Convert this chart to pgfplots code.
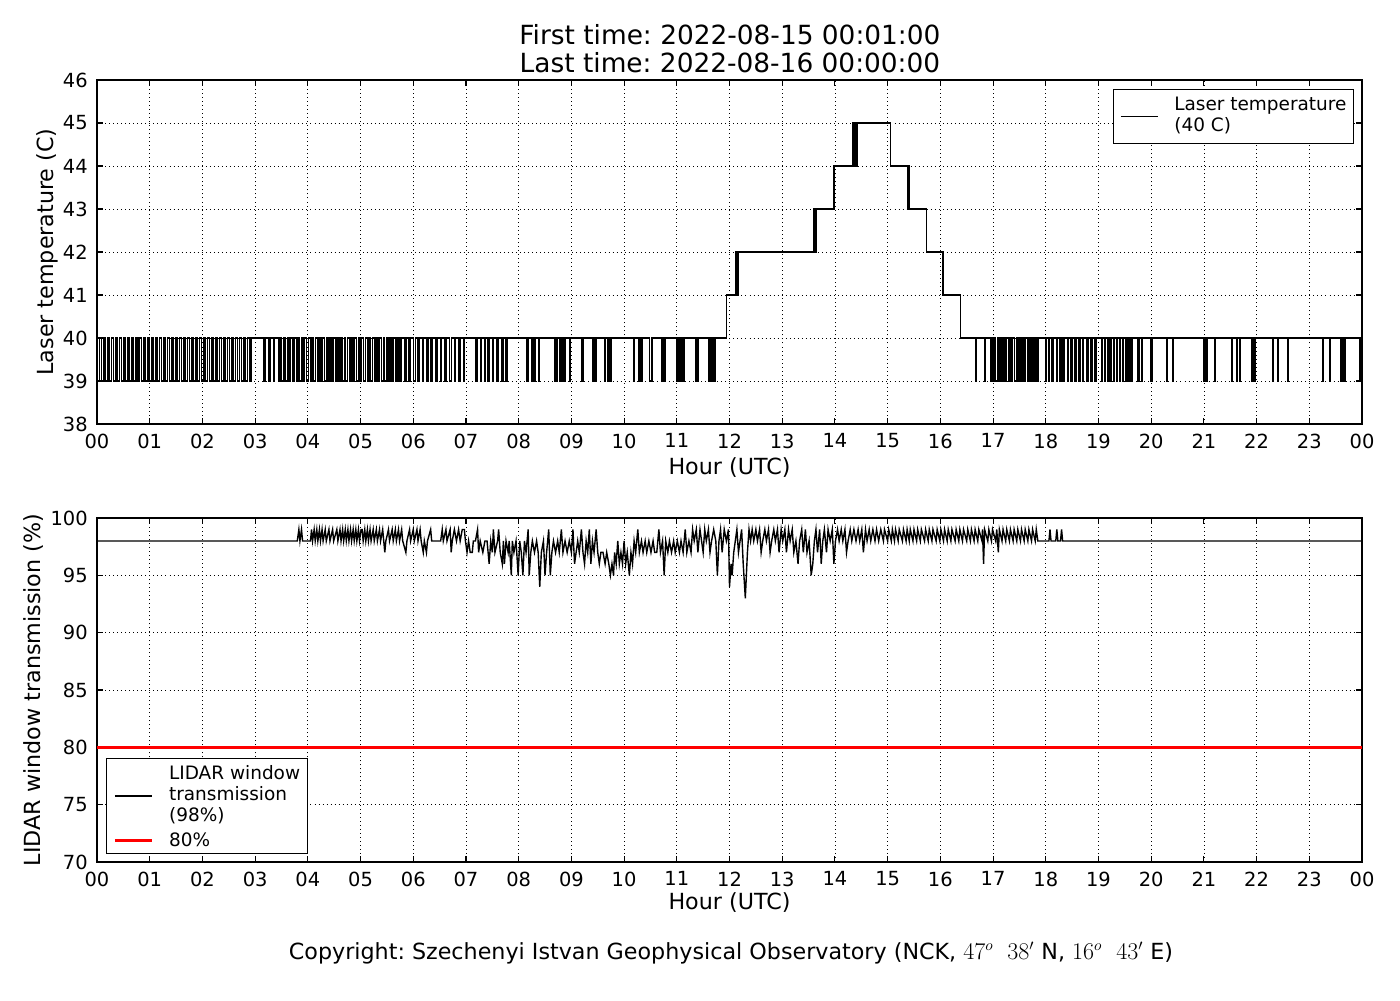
\documentclass[border=0pt]{standalone}
\usepackage{fontspec}
\setmainfont{DejaVu Sans}
\usepackage{pgfplots}
\usepackage{pgfplotstable}
\pgfplotsset{compat=1.18}
\frenchspacing
\pgfplotstableread[row sep=\\]{x y\\
0.00 39\\0.05 40\\0.08 39\\0.12 40\\0.15 39\\0.20 40\\0.23 39\\0.27 40\\0.31 39\\0.35 40\\0.38 39\\0.43 40\\0.46 39\\0.50 40\\0.53 39\\0.58 40\\0.61 39\\0.65 40\\0.68 39\\0.73 40\\0.76 39\\0.80 40\\0.84 39\\0.88 40\\0.91 39\\0.96 40\\0.99 39\\1.03 40\\1.06 39\\1.11 40\\1.14 39\\1.18 40\\1.22 39\\1.26 40\\1.29 39\\1.34 40\\1.37 39\\1.41 40\\1.44 39\\1.49 40\\1.52 39\\1.56 40\\1.60 39\\1.64 40\\1.67 39\\1.72 40\\1.75 39\\1.79 40\\1.82 39\\1.87 40\\1.90 39\\1.94 40\\1.98 39\\2.02 40\\2.05 39\\2.10 40\\2.13 39\\2.17 40\\2.20 39\\2.25 40\\2.28 39\\2.32 40\\2.36 39\\2.40 40\\2.43 39\\2.48 40\\2.51 39\\2.55 40\\2.58 39\\2.63 40\\2.66 39\\2.70 40\\2.74 39\\2.78 40\\2.81 39\\2.86 40\\2.89 39\\2.92 40\\
3.17 39\\3.20 40\\3.26 39\\3.28 40\\3.35 39\\3.37 40\\
3.44 39\\3.47 40\\3.50 39\\3.54 40\\3.57 39\\3.61 40\\3.64 39\\3.67 40\\3.71 39\\3.74 40\\3.78 39\\3.81 40\\3.84 39\\3.88 40\\3.91 39\\3.94 40\\3.98 39\\4.01 40\\4.05 39\\4.08 40\\4.11 39\\4.15 40\\4.18 39\\4.21 40\\4.25 39\\4.28 40\\4.32 39\\4.35 40\\4.38 39\\4.42 40\\4.45 39\\4.48 40\\4.52 39\\4.55 40\\4.59 39\\4.62 40\\4.65 39\\4.69 40\\4.72 39\\4.75 40\\4.79 39\\4.82 40\\4.86 39\\4.89 40\\4.92 39\\4.96 40\\4.99 39\\5.02 40\\5.06 39\\5.09 40\\5.13 39\\5.16 40\\5.19 39\\5.23 40\\5.26 39\\5.29 40\\5.33 39\\5.36 40\\5.40 39\\5.43 40\\5.46 39\\5.50 40\\5.53 39\\5.56 40\\5.60 39\\5.63 40\\5.67 39\\5.70 40\\5.73 39\\5.77 40\\
5.83 39\\5.86 40\\5.92 39\\5.95 40\\6.01 39\\6.04 40\\6.09 39\\6.11 40\\6.17 39\\6.20 40\\6.26 39\\6.28 40\\6.34 39\\6.37 40\\6.43 39\\6.46 40\\6.52 39\\6.54 40\\6.60 39\\6.63 40\\6.69 39\\6.72 40\\6.78 39\\6.80 40\\6.86 39\\6.89 40\\6.95 39\\6.97 40\\
7.18 39\\7.21 40\\7.27 39\\7.29 40\\7.35 39\\7.37 40\\7.41 39\\7.44 40\\7.50 39\\7.52 40\\7.58 39\\7.61 40\\7.68 39\\7.70 40\\7.76 39\\7.79 40\\
8.16 39\\8.18 40\\8.25 39\\8.27 40\\8.30 39\\8.32 40\\8.38 39\\8.40 40\\8.68 39\\8.70 40\\8.72 39\\8.74 40\\8.78 39\\8.80 40\\8.82 39\\8.84 40\\8.86 39\\8.88 40\\8.96 39\\8.98 40\\9.20 39\\9.22 40\\9.41 39\\9.43 40\\9.45 39\\9.47 40\\9.63 39\\9.65 40\\9.68 39\\9.70 40\\9.73 39\\9.75 40\\10.18 39\\10.20 40\\10.28 39\\10.30 40\\10.32 39\\10.34 40\\10.48 39\\10.53 40\\10.72 39\\10.74 40\\10.76 39\\10.78 40\\11.00 39\\11.02 40\\11.04 39\\11.06 40\\11.08 39\\11.10 40\\11.12 39\\11.14 40\\11.35 39\\11.37 40\\11.39 39\\11.41 40\\11.61 39\\11.63 40\\11.67 39\\11.69 40\\11.71 39\\11.73 40\\
11.94 41\\12.12 42\\12.14 41\\12.16 42\\13.60 43\\13.62 42\\13.64 43\\13.98 44\\14.34 45\\14.36 44\\14.39 45\\14.41 44\\14.43 45\\15.05 44\\15.38 43\\15.40 44\\15.42 43\\15.74 42\\16.05 41\\16.38 40\\
16.67 39\\16.69 40\\16.84 39\\16.86 40\\16.95 39\\16.97 40\\17.00 39\\17.02 40\\17.05 39\\17.08 40\\17.11 39\\17.13 40\\17.17 39\\17.20 40\\17.23 39\\17.25 40\\17.29 39\\17.32 40\\17.35 39\\17.37 40\\17.41 39\\17.44 40\\17.47 39\\17.50 40\\17.53 39\\17.56 40\\17.59 39\\17.62 40\\17.66 39\\17.68 40\\17.72 39\\17.74 40\\17.78 39\\17.80 40\\17.83 39\\17.85 40\\
17.99 39\\18.01 40\\18.05 39\\18.07 40\\18.12 39\\18.14 40\\18.20 39\\18.22 40\\18.27 39\\18.29 40\\18.33 39\\18.35 40\\18.41 39\\18.43 40\\18.48 39\\18.51 40\\18.55 39\\18.57 40\\18.63 39\\18.65 40\\18.70 39\\18.72 40\\18.78 39\\18.80 40\\18.86 39\\18.88 40\\18.93 39\\18.95 40\\19.06 39\\19.08 40\\19.11 39\\19.13 40\\19.17 39\\19.19 40\\19.22 39\\19.24 40\\19.28 39\\19.30 40\\19.34 39\\19.36 40\\19.40 39\\19.42 40\\19.46 39\\19.48 40\\19.52 39\\19.54 40\\19.58 39\\19.60 40\\19.62 39\\19.64 40\\19.75 39\\19.77 40\\19.82 39\\19.84 40\\20.00 39\\20.02 40\\20.29 39\\20.31 40\\20.40 39\\20.42 40\\21.00 39\\21.02 40\\21.05 39\\21.07 40\\21.20 39\\21.22 40\\21.52 39\\21.54 40\\21.62 39\\21.64 40\\21.67 39\\21.69 40\\21.90 39\\21.92 40\\21.95 39\\21.97 40\\22.30 39\\22.32 40\\22.40 39\\22.42 40\\22.59 39\\22.61 40\\23.25 39\\23.27 40\\23.38 39\\23.40 40\\23.60 39\\23.62 40\\23.66 39\\23.68 40\\23.96 39\\24.00 39\\
}\lasertemp
\pgfplotstableread[row sep=\\]{x y\\
0.00 98\\3.80 98\\3.83 99\\3.85 98\\3.88 99\\3.90 98\\4.05 98\\4.07 99\\4.09 98\\4.12 99\\4.14 98\\4.17 99\\4.19 98\\4.22 99\\4.24 98\\4.27 99\\4.29 98\\4.33 99\\4.35 98\\4.40 99\\4.42 98\\4.47 99\\4.49 98\\4.55 99\\4.57 98\\4.61 99\\4.63 98\\4.66 99\\4.68 98\\4.71 99\\4.73 98\\4.76 99\\4.78 98\\4.81 99\\4.83 98\\4.86 99\\4.88 98\\4.91 99\\4.93 98\\4.96 99\\4.98 98\\5.01 99\\5.03 99\\5.05 98\\5.08 99\\5.10 98\\5.13 99\\5.15 98\\5.18 99\\5.20 98\\5.24 99\\5.26 98\\5.30 99\\5.32 98\\5.36 99\\5.38 98\\5.42 99\\5.44 98\\5.46 97\\5.48 98\\5.53 99\\5.55 98\\5.60 99\\5.62 98\\5.66 99\\5.68 98\\5.72 99\\5.74 98\\5.78 99\\5.80 98\\5.86 97\\5.88 98\\5.93 99\\5.95 98\\6.00 99\\6.02 98\\6.07 99\\6.09 98\\6.13 99\\6.15 98\\6.19 97\\6.21 98\\6.25 97\\6.27 98\\6.33 99\\6.35 98\\6.52 98\\6.55 99\\6.57 98\\6.62 99\\6.64 98\\6.70 99\\6.72 97\\6.74 98\\6.78 99\\6.82 98\\6.86 99\\6.89 98\\6.93 99\\6.97 99\\6.99 98\\
7.02 97\\7.05 98\\7.08 97\\7.12 97\\7.14 98\\7.18 98\\7.22 99\\7.24 97\\7.27 98\\7.32 97\\7.36 98\\7.40 98\\7.44 96\\7.47 98\\7.50 97\\7.52 99\\7.55 97\\7.60 98\\7.62 99\\7.65 97\\7.69 96\\7.71 98\\7.73 96\\7.76 98\\7.80 97\\7.82 98\\7.86 95\\7.88 98\\7.91 97\\7.95 98\\7.99 95\\8.02 98\\8.05 97\\8.08 95\\8.11 98\\8.14 97\\8.18 99\\8.20 95\\8.23 97\\8.26 98\\8.30 97\\8.34 98\\8.37 97\\8.40 94\\8.43 97\\8.47 98\\8.50 95\\8.53 97\\8.57 99\\8.60 95\\8.63 97\\8.66 98\\8.70 97\\8.74 98\\8.77 97\\8.81 99\\8.84 97\\8.88 98\\8.92 97\\8.96 98\\
9.00 97\\9.03 99\\9.06 96\\9.09 97\\9.12 98\\9.15 97\\9.19 99\\9.22 97\\9.25 96\\9.28 98\\9.31 97\\9.34 99\\9.37 96\\9.40 98\\9.43 97\\9.47 99\\9.50 97\\9.53 96\\9.56 97\\9.60 97\\9.64 96\\9.67 97\\9.71 96\\9.74 95\\9.77 96\\9.80 95\\9.82 97\\9.85 96\\9.88 98\\9.91 96\\9.94 97\\9.97 96\\10.00 98\\10.03 96\\10.06 97\\10.10 95\\10.13 97\\10.16 96\\10.19 98\\10.22 97\\10.26 99\\10.29 97\\10.33 98\\10.36 97\\10.40 98\\10.43 97\\10.47 98\\10.51 97\\10.55 98\\10.58 97\\10.62 97\\10.66 99\\10.69 97\\10.73 98\\10.76 95\\10.79 98\\10.83 97\\10.86 98\\10.90 97\\10.94 98\\10.97 97\\
11.01 98\\11.05 97\\11.08 98\\11.12 97\\11.16 99\\11.19 97\\11.23 98\\11.27 97\\11.30 99\\11.33 98\\11.37 99\\11.40 97\\11.44 99\\11.47 98\\11.50 97\\11.53 99\\11.56 98\\11.60 99\\11.63 97\\11.66 98\\11.70 99\\11.74 98\\11.77 95\\11.80 98\\11.83 99\\11.86 97\\11.90 99\\11.94 98\\11.98 99\\12.00 94\\12.03 96\\12.05 95\\12.08 97\\12.11 98\\12.14 99\\12.17 97\\12.20 98\\12.23 99\\12.26 96\\12.30 93\\12.32 95\\12.34 97\\12.37 99\\12.40 98\\12.43 99\\12.46 98\\12.50 99\\12.53 98\\12.57 99\\12.60 97\\12.63 98\\12.67 99\\12.70 98\\12.74 99\\12.77 97\\12.80 98\\12.84 99\\12.87 98\\12.91 99\\12.94 97\\12.98 99\\
13.01 98\\13.05 99\\13.08 97\\13.12 99\\13.15 98\\13.19 99\\13.22 97\\13.26 98\\13.30 96\\13.33 98\\13.37 99\\13.40 97\\13.44 99\\13.47 97\\13.51 98\\13.55 95\\13.58 96\\13.61 98\\13.64 99\\13.67 97\\13.71 99\\13.74 96\\13.77 98\\13.80 99\\13.84 97\\13.87 99\\13.91 98\\13.95 99\\13.98 96\\14.01 98\\14.05 99\\14.08 98\\14.12 99\\14.15 98\\14.19 99\\14.22 97\\14.25 98\\14.29 99\\14.32 98\\14.36 99\\14.40 98\\14.44 99\\14.47 98\\14.51 99\\14.54 97\\14.58 99\\14.61 98\\14.65 99\\14.68 98\\14.72 99\\14.76 98\\14.79 99\\14.83 98\\14.87 99\\
14.92 98\\14.94 99\\15.00 98\\15.02 99\\15.07 98\\15.09 99\\15.13 98\\15.15 99\\15.20 98\\15.22 99\\15.28 98\\15.30 99\\15.35 98\\15.37 99\\15.41 98\\15.43 99\\15.48 98\\15.50 99\\15.55 98\\15.57 99\\15.62 98\\15.64 99\\15.70 98\\15.72 99\\15.77 98\\15.79 99\\15.84 98\\15.86 99\\15.92 98\\15.94 99\\15.99 98\\16.01 99\\16.06 98\\16.08 99\\16.13 98\\16.15 99\\16.20 98\\16.22 99\\16.28 98\\16.30 99\\16.35 98\\16.37 99\\16.42 98\\16.44 99\\16.50 98\\16.52 99\\16.57 98\\16.59 99\\16.64 98\\16.66 99\\16.71 98\\16.73 99\\16.79 98\\16.80 99\\16.82 96\\16.84 99\\16.90 98\\16.92 99\\16.97 98\\16.99 99\\17.05 98\\17.07 99\\17.10 97\\17.12 99\\17.17 98\\17.19 99\\17.24 98\\17.26 99\\17.31 98\\17.33 99\\17.38 98\\17.40 99\\17.45 98\\17.47 99\\17.52 98\\17.54 99\\17.59 98\\17.61 99\\17.66 98\\17.68 99\\17.73 98\\17.75 99\\17.80 98\\17.82 99\\
17.85 98\\18.06 98\\18.08 99\\18.10 98\\18.19 98\\18.21 99\\18.23 98\\18.28 98\\18.30 99\\18.32 98\\24.00 98\\
}\lidartrans
\pgfplotsset{
  chartbase/.style={
    scale only axis,
    width=910.8pt, height=247.68pt,
    xmin=0, xmax=24,
    xtick={0,...,24},
    xticklabels={00,01,02,03,04,05,06,07,08,09,10,11,12,13,14,15,16,17,18,19,20,21,22,23,00},
    /pgf/number format/assume math mode=true,
    tick label style={font=\fontsize{14}{16.8}\selectfont},
    xticklabel style={yshift=-3.5pt},
    yticklabel style={xshift=-3.2pt},
    label style={font=\fontsize{16}{19.2}\selectfont},
    grid=major,
    grid style={black, line width=0.5pt, dash pattern=on 0.7pt off 2.2pt},
    axis line style={black, line width=0.8pt},
    tick style={black, line width=0.8pt},
    major tick length=4pt,
    tick align=inside,
    xtick pos=both, ytick pos=both,
    minor tick num=0,
    legend cell align=left,
    legend image code/.code={\draw[##1] (0pt,0pt) -- (27pt,0pt);},
    legend style={font=\fontsize{13.3}{15}\selectfont, draw=black, line width=0.8pt,
      inner xsep=5pt, inner ysep=4.5pt, row sep=4.3pt, column sep=11pt,
      nodes={inner xsep=0pt, inner ysep=0pt, text depth=}},
  }
}
\begin{document}%
\begin{tikzpicture}
\path[use as bounding box] (0,0) rectangle (1008pt,-720pt);

\node[align=center, font=\fontsize{19}{20.2}\selectfont] at (525.6pt,-35.28pt)
  {First time: 2022-08-15 00:01:00\\Last time: 2022-08-16 00:00:00};

\begin{axis}[chartbase,
  at={(69.84pt,-305.28pt)}, anchor=south west,
  ymin=38, ymax=46, ytick={38,39,...,46},
  xlabel={Hour (UTC)},
  ylabel={Laser temperature (C)},
  xlabel style={at={(axis description cs:0.5,-0.126)}, anchor=center},
  ylabel style={at={(axis description cs:-0.0395,0.5)}, anchor=center},
  legend style={at={(1,1)}, anchor=north east, xshift=-5.76pt, yshift=-6.5pt},
]
\addplot[black, line width=1pt, const plot] table[x=x, y=y] {\lasertemp};
\addlegendentry{\begin{tabular}{@{}l@{}}Laser temperature\\(40 C)\end{tabular}}
\end{axis}

\begin{axis}[chartbase,
  at={(69.84pt,-620.64pt)}, anchor=south west,
  ymin=70, ymax=100, ytick={70,75,...,100},
  xlabel={Hour (UTC)},
  ylabel={LIDAR window transmission (\%)},
  xlabel style={at={(axis description cs:0.5,-0.117)}, anchor=center},
  ylabel style={at={(axis description cs:-0.0498,0.5)}, anchor=center},
  legend style={at={(0,0)}, anchor=south west, xshift=6.5pt, yshift=5.76pt},
]
\addplot[black, line width=1pt] table[x=x, y=y] {\lidartrans};
\addlegendentry{\begin{tabular}{@{}l@{}}LIDAR window\\transmission\\(98\%)\end{tabular}}
\addplot[red, line width=2pt] coordinates {(0,80) (24,80)};
\addlegendentry{80\%}
\end{axis}

\node[font=\fontsize{16}{19.2}\selectfont] at (526.3pt,-686pt)
  {Copyright: Szechenyi Istvan Geophysical Observatory (NCK, $47^o\ \ 38'$ N, $16^o\ \ 43'$ E)};
\end{tikzpicture}%
\end{document}
